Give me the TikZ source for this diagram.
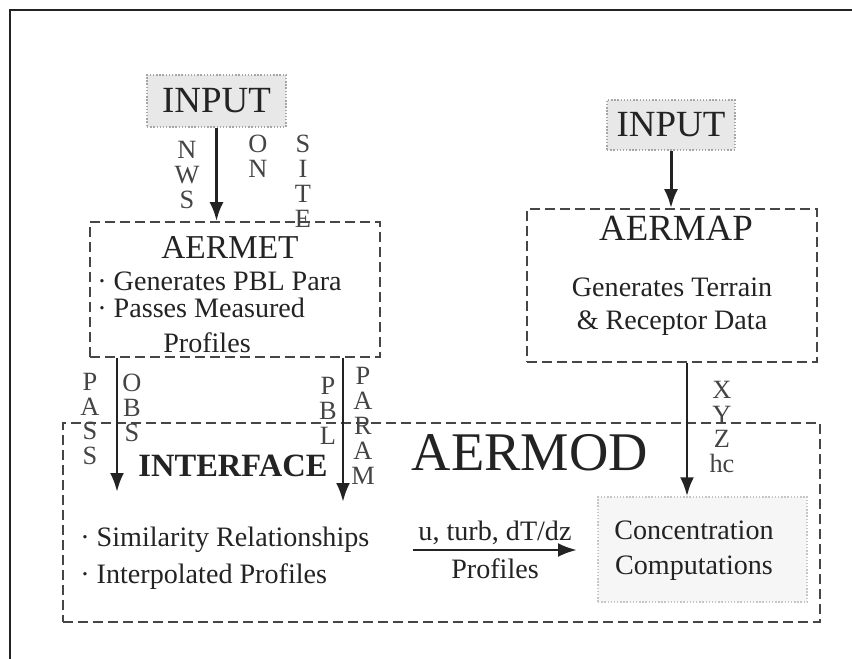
\documentclass[tikz,border=0pt]{standalone}
\usepackage{fontspec}
\setmainfont{Liberation Serif}
\usetikzlibrary{arrows.meta,positioning,calc}
\definecolor{ink}{RGB}{35,35,35}
\definecolor{frame}{RGB}{70,70,70}
\definecolor{paper}{RGB}{232,232,232}
\definecolor{haze}{RGB}{246,246,246}
\tikzset{
  >={Latex[length=3.8mm,width=2.8mm]},
  inbox/.style={fill=paper,draw=gray!70,densely dotted,thick,inner sep=0pt,
    text=ink,font=\fontsize{21}{24}\selectfont},
  dbox/.style={draw=frame,line width=1pt,dash pattern=on 2mm off 1mm,inner sep=0pt},
  cbox/.style={fill=haze,draw=gray!45,densely dotted,thick,inner sep=0pt},
  flow/.style={->,line width=1.7pt,draw=ink},
  body/.style={font=\fontsize{16}{19}\selectfont,text=ink,inner sep=0pt},
  stack/.style={font=\fontsize{15}{14.2}\selectfont,text=ink!85,align=center,inner sep=0pt},
  title/.style={font=\fontsize{#1}{#1}\selectfont,text=ink,inner sep=0pt},
}
\begin{document}
\begin{tikzpicture}[x=0.02cm,y=-0.02cm]
  \useasboundingbox (0,0) rectangle (852,659);
  \fill[white] (0,0) rectangle (852,659);
  \draw[ink,line width=1.7pt] (10,659) -- (10,10) -- (852,10);

  % boxes
  \node[inbox,minimum width=2.78cm,minimum height=1.04cm] (in1) at (216.5,101) {INPUT};
  \node[inbox,minimum width=2.56cm,minimum height=1cm] (in2) at (671,125) {INPUT};
  \node[dbox,minimum width=5.8cm,minimum height=2.7cm] (aermet) at (235,289.5) {};
  \node[dbox,minimum width=5.8cm,minimum height=3.06cm] (aermap) at (672,285.5) {};
  \node[dbox,minimum width=15.14cm,minimum height=3.98cm] (aermod) at (441.5,522.5) {};
  \node[cbox,minimum width=4.18cm,minimum height=2.1cm] (conc) at (702.5,549.5) {};

  % texts
  \node[title=19] (metname) at (230,247) {AERMET};
  \node[body,anchor=west] (met1) at (97,281) {· Generates PBL Para};
  \node[body,anchor=west] (met2) at (97,308) {· Passes Measured};
  \node[body] (met3) at (207,343) {Profiles};
  \node[title=21] (mapname) at (676,228) {AERMAP};
  \node[body,align=center,font=\fontsize{16}{18.8}\selectfont] (mapdesc) at (672,306.5) {Generates Terrain\\\& Receptor Data};
  \node[title=31] (modname) at (530,453) {AERMOD};
  \node[title=19,font={\fontsize{18.5}{19}\selectfont\bfseries}] (intfname) at (233,466) {INTERFACE};
  \node[body,align=left,font=\fontsize{16}{21}\selectfont,anchor=west] (intf) at (80,558.5) {· Similarity Relationships\\· Interpolated Profiles};
  \node[body,align=center,font=\fontsize{16}{20}\selectfont] (conctext) at (694,550.5) {Concentration\\Computations};

  % letters along the arrows
  \node[stack] (nws) at (187,175) {N\\W\\S};
  \node[stack] (onl) at (258,156) {O\\N};
  \node[stack] (site) at (303,181) {S\\I\\T\\E};
  \node[stack] (pass) at (90,419) {P\\A\\S\\S};
  \node[stack] (obs) at (132,408) {O\\B\\S};
  \node[stack] (pbl) at (328,411) {P\\B\\L};
  \node[stack] (param) at (363,426) {P\\A\\R\\A\\M};
  \node[stack] (xyz) at (722,427) {X\\Y\\Z\\hc};

  % arrows
  \coordinate (obsend) at (117,492);
  \coordinate (pblend) at (343,502);
  \coordinate (profstart) at (413,550);
  \coordinate (profend) at (577,550);
  \draw[flow] (in1.south) -- (in1.south |- aermet.north);
  \draw[flow] (in2.south) -- (in2.south |- aermap.north);
  \draw[flow] (aermet.south -| obsend) -- (obsend);
  \draw[flow] (aermet.south -| pblend) -- (pblend);
  \draw[flow] ([xshift=0.3cm]aermap.south) -- ([xshift=0.3cm]aermap.south |- conc.north);
  \draw[flow] (profstart) -- node[above=2pt,body]{u, turb, dT/dz} node[below=4pt,body]{Profiles} (profend);
\end{tikzpicture}
\end{document}
